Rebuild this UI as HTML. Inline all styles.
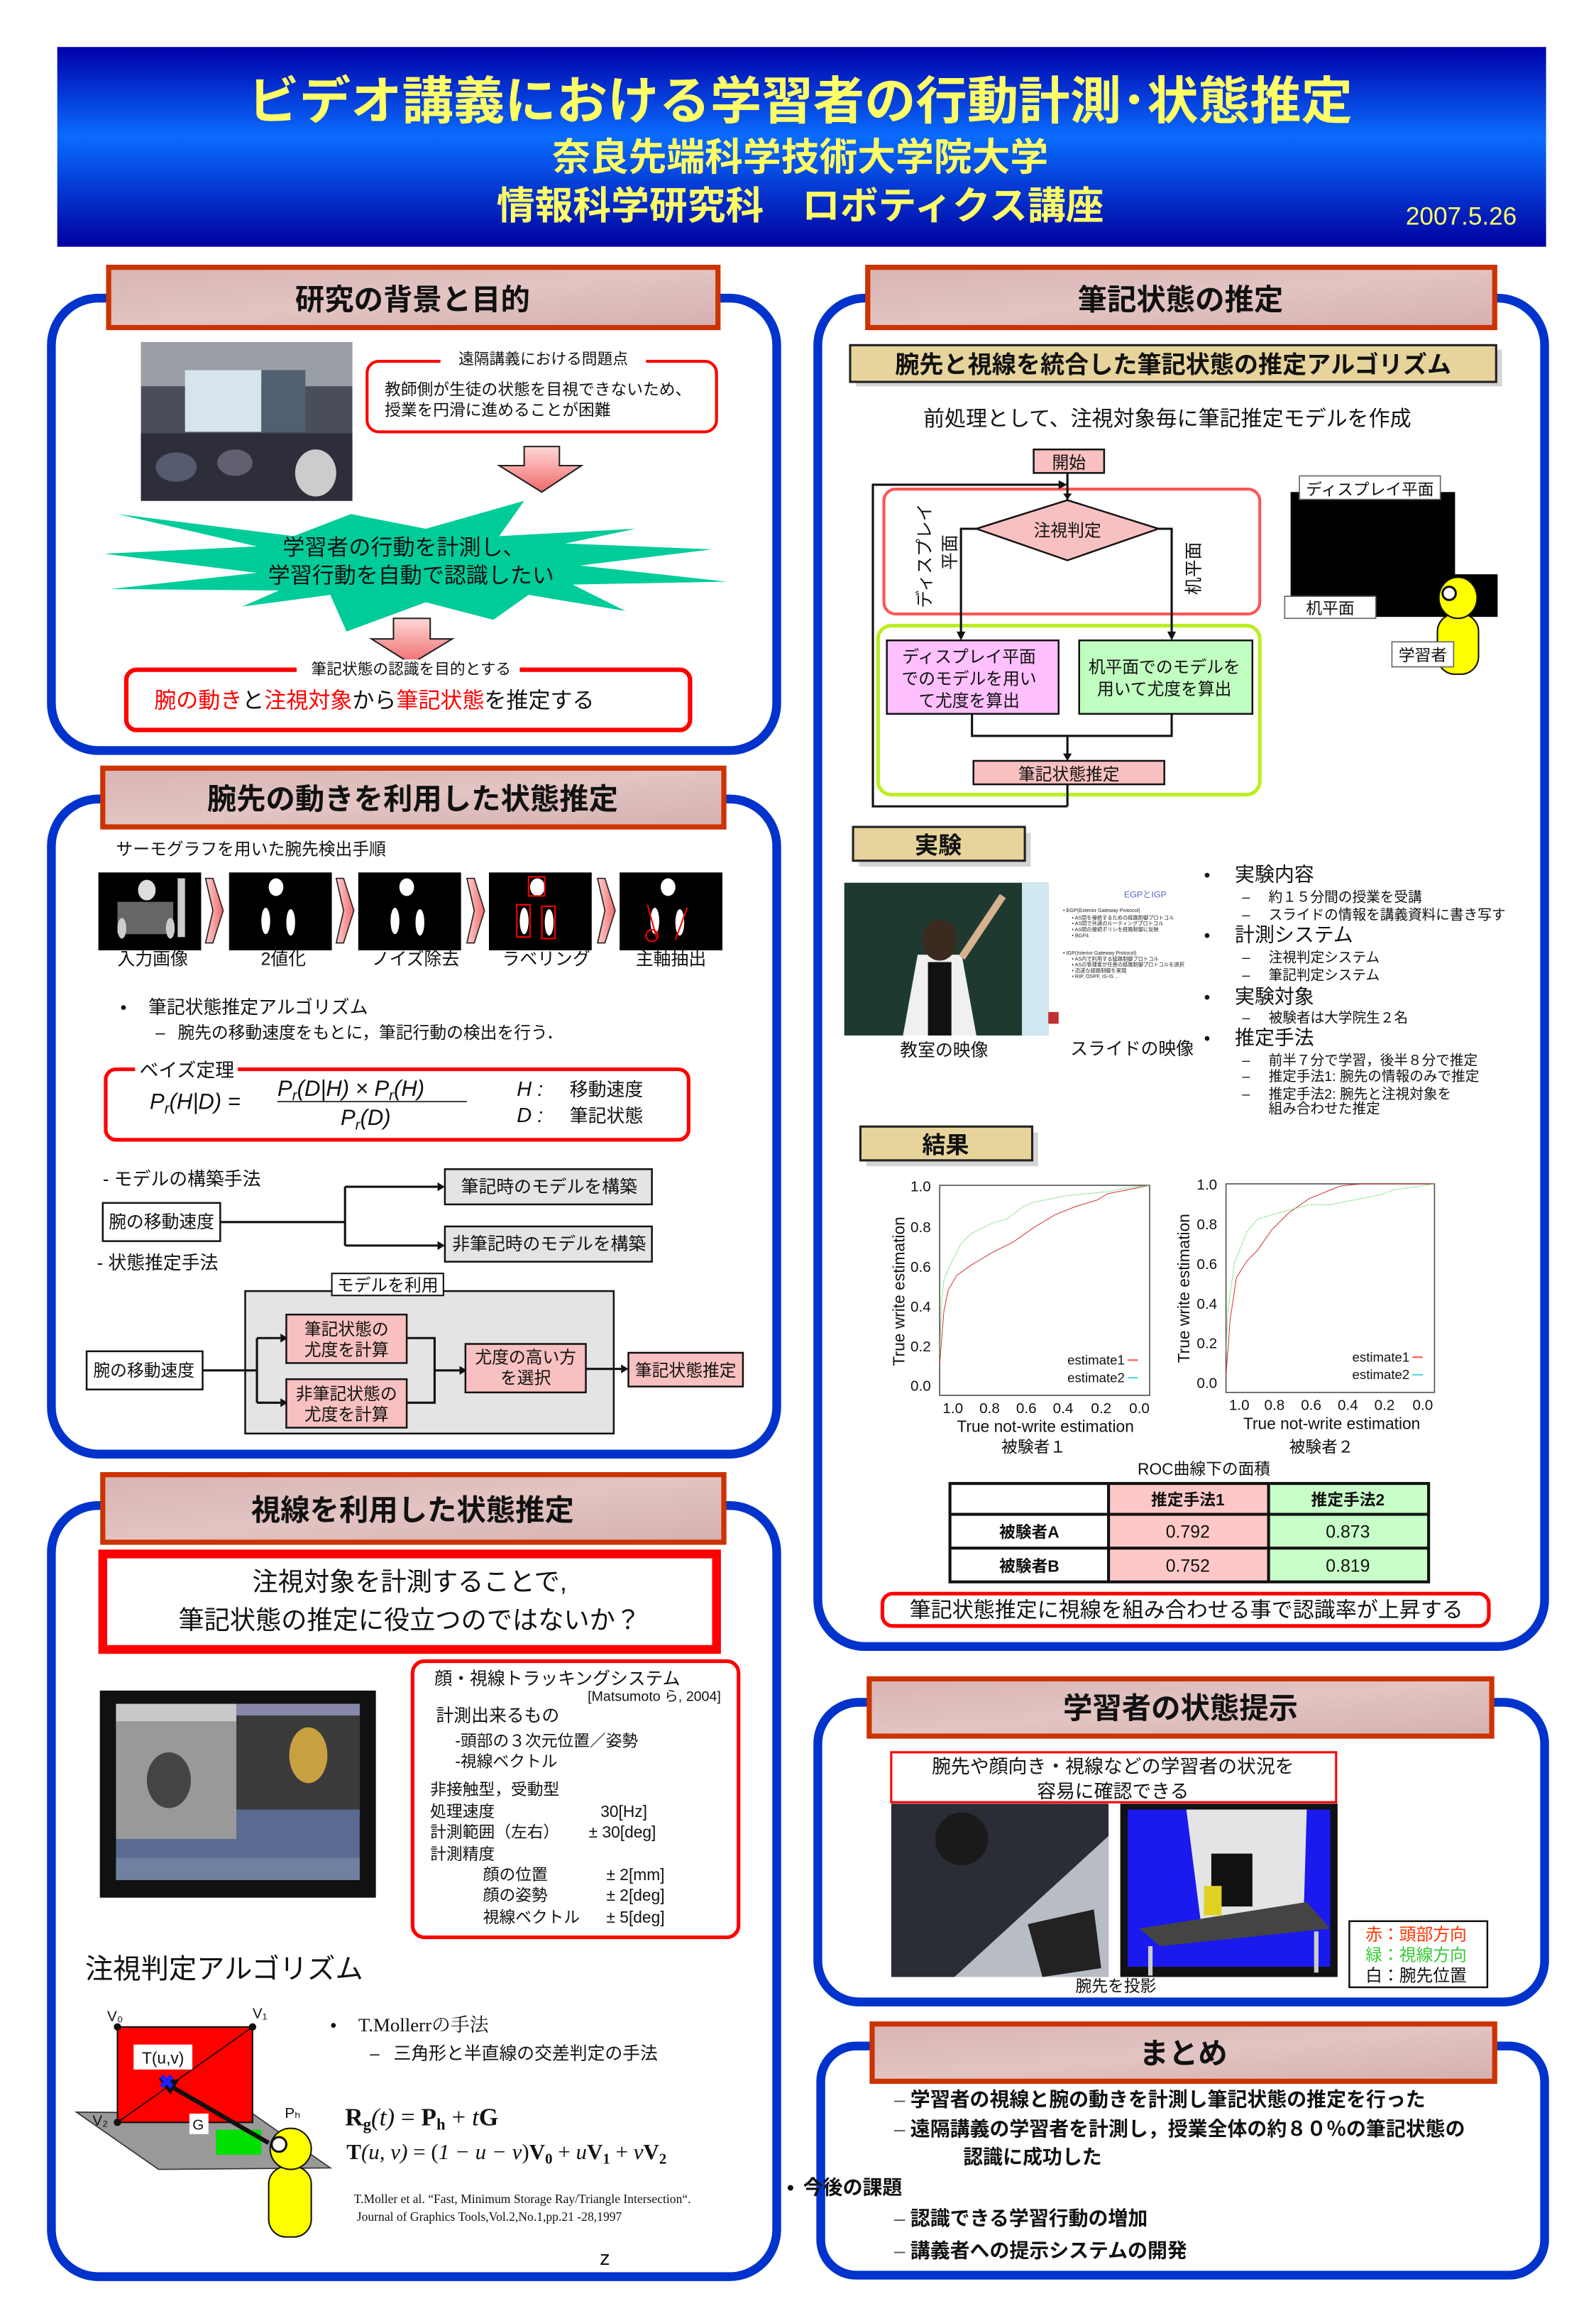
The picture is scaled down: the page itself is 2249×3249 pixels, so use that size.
<!DOCTYPE html>
<html><head><meta charset="utf-8"><style>
html,body{margin:0;padding:0;background:#fff;}
svg{display:block;}
text{font-family:"Liberation Sans","Noto Sans CJK JP",sans-serif;}
.serif{font-family:"Liberation Serif","Noto Serif CJK SC",serif;}
</style></head><body>
<svg width="2249" height="3249" viewBox="0 0 1087 1570" preserveAspectRatio="none" xmlns="http://www.w3.org/2000/svg">
<defs>
<linearGradient id="hg" x1="0" y1="0" x2="0" y2="1">
<stop offset="0" stop-color="#0000a8"/><stop offset="0.45" stop-color="#0a6cff"/><stop offset="1" stop-color="#0000a0"/>
</linearGradient>
<linearGradient id="pk" x1="0" y1="0" x2="1" y2="1">
<stop offset="0" stop-color="#d8b4b4"/><stop offset="0.5" stop-color="#e2c4c2"/><stop offset="1" stop-color="#d4b0b0"/>
</linearGradient>
<linearGradient id="ar" x1="0" y1="0" x2="1" y2="0">
<stop offset="0" stop-color="#ffd0d0"/><stop offset="1" stop-color="#f06a6a"/>
</linearGradient>
<linearGradient id="ard" x1="0" y1="0" x2="0" y2="1">
<stop offset="0" stop-color="#ffd8d8"/><stop offset="1" stop-color="#f06a6a"/>
</linearGradient>
</defs>
<rect width="1087" height="1570" fill="#fff"/>
<!-- HEADER -->
<rect x="39" y="32" width="1014" height="136" fill="url(#hg)"/>
<text x="545" y="81" text-anchor="middle" font-size="35" font-weight="bold" fill="#ffff66">ビデオ講義における学習者の行動計測･状態推定</text>
<text x="545" y="116" text-anchor="middle" font-size="26" font-weight="bold" fill="#ffff66">奈良先端科学技術大学院大学</text>
<text x="545" y="149" text-anchor="middle" font-size="26" font-weight="bold" fill="#ffff66">情報科学研究科　ロボティクス講座</text>
<text x="1033" y="153" text-anchor="end" font-size="17" fill="#ffff66">2007.5.26</text>

<!-- PANEL BORDERS -->
<g fill="none" stroke="#0033cc" stroke-width="6">
<rect x="35" y="203" width="494" height="308" rx="32"/>
<rect x="35" y="544" width="494" height="446" rx="32"/>
<rect x="35" y="1025" width="494" height="525" rx="32"/>
<rect x="557" y="203" width="495" height="918" rx="32"/>
<rect x="557" y="1159" width="495" height="204" rx="28"/>
<rect x="559" y="1393" width="493" height="156" rx="24"/>
</g>
<!-- SECTION HEADERS -->
<g fill="url(#pk)" stroke="#cc3300" stroke-width="3.5">
<rect x="74" y="182" width="415" height="41"/>
<rect x="70" y="523" width="423" height="40"/>
<rect x="70" y="1004" width="423" height="46"/>
<rect x="591" y="182" width="427" height="41"/>
<rect x="592" y="1143" width="424" height="39"/>
<rect x="594" y="1378" width="424" height="39"/>
</g>
<g font-size="20" font-weight="bold" fill="#111" text-anchor="middle">
<text x="281" y="211">研究の背景と目的</text>
<text x="281" y="551">腕先の動きを利用した状態推定</text>
<text x="281" y="1035">視線を利用した状態推定</text>
<text x="804" y="211">筆記状態の推定</text>
<text x="804" y="1170">学習者の状態提示</text>
<text x="806" y="1405">まとめ</text>
</g>

<!-- PANEL 1 -->
<rect x="96" y="233" width="144" height="108" fill="#4a4e58"/>
<rect x="96" y="233" width="144" height="30" fill="#9a9ea6"/>
<rect x="126" y="252" width="52" height="42" fill="#d8e4ec"/>
<rect x="178" y="252" width="30" height="42" fill="#506070"/>
<rect x="96" y="295" width="144" height="46" fill="#2e2e3a"/>
<ellipse cx="120" cy="318" rx="14" ry="10" fill="#555a70"/>
<ellipse cx="160" cy="315" rx="12" ry="9" fill="#606070"/>
<ellipse cx="215" cy="322" rx="14" ry="16" fill="#cccccc"/>
<rect x="250" y="246" width="238" height="48" rx="8" fill="#fff" stroke="#f00" stroke-width="2"/>
<rect x="300" y="238" width="140" height="12" fill="#fff"/>
<text x="370" y="248" text-anchor="middle" font-size="10.5" fill="#111">遠隔講義における問題点</text>
<text x="262" y="269" font-size="11" fill="#111">教師側が生徒の状態を目視できないため、</text>
<text x="262" y="283" font-size="11" fill="#111">授業を円滑に進めることが困難</text>
<polygon points="357,304 381,304 381,317 396,317 369,335 340,317 357,317" fill="url(#ard)" stroke="#222" stroke-width="1"/>
<polygon points="80,350 175,372 71,377 175,390 75,401 190,402 165,413 225,405 236,430 290,410 336,422 360,405 426,416 390,398 495,396 395,385 485,374 385,370 433,360 340,365 357,341 290,360 239,350 200,365" fill="#00cc99"/>
<text x="275" y="378" text-anchor="middle" font-size="15" fill="#111">学習者の行動を計測し、</text>
<text x="280" y="397" text-anchor="middle" font-size="15" fill="#111">学習行動を自動で認識したい</text>
<polygon points="268,421 293,421 293,435 308,435 280,452 253,435 268,435" fill="url(#ard)" stroke="#222" stroke-width="1"/>
<rect x="86" y="456" width="384" height="41" rx="7" fill="none" stroke="#f00" stroke-width="3"/>
<rect x="202" y="449" width="152" height="12" fill="#fff"/>
<text x="280" y="459" text-anchor="middle" font-size="10.5" fill="#111">筆記状態の認識を目的とする</text>
<text x="105" y="482" font-size="15" fill="#111"><tspan fill="#f00">腕の動き</tspan>と<tspan fill="#f00">注視対象</tspan>から<tspan fill="#f00">筆記状態</tspan>を推定する</text>

<!-- PANEL 2 -->
<text x="79" y="582" font-size="11.5" fill="#111">サーモグラフを用いた腕先検出手順</text>
<g fill="#000">
<rect x="67" y="594" width="70" height="53"/><rect x="156" y="594" width="70" height="53"/>
<rect x="244" y="594" width="70" height="53"/><rect x="333" y="594" width="70" height="53"/>
<rect x="422" y="594" width="70" height="53"/>
</g>
<g fill="#fff">
<ellipse cx="100" cy="606" rx="6" ry="7" fill="#ddd"/><rect x="80" y="614" width="38" height="22" fill="#666"/>
<ellipse cx="83" cy="632" rx="3" ry="7" fill="#ccc"/><ellipse cx="116" cy="632" rx="3" ry="7" fill="#ccc"/>
<rect x="121" y="598" width="5" height="40" fill="#ccc"/>
<ellipse cx="188" cy="604" rx="5" ry="6"/><ellipse cx="181" cy="627" rx="3" ry="9"/><ellipse cx="198" cy="628" rx="3" ry="9"/>
<ellipse cx="277" cy="604" rx="5" ry="6"/><ellipse cx="269" cy="627" rx="3" ry="9"/><ellipse cx="286" cy="628" rx="3" ry="9"/>
<ellipse cx="366" cy="604" rx="5" ry="6"/><ellipse cx="357" cy="627" rx="3" ry="9"/><ellipse cx="374" cy="628" rx="3" ry="9"/>
<ellipse cx="455" cy="604" rx="5" ry="6"/><ellipse cx="446" cy="627" rx="3" ry="9"/><ellipse cx="463" cy="628" rx="3" ry="9"/>
</g>
<g fill="none" stroke="#f00" stroke-width="1">
<rect x="360" y="597" width="11" height="13"/><rect x="352" y="616" width="9" height="22"/><rect x="369" y="617" width="9" height="22"/>
<circle cx="444" cy="637" r="4"/><line x1="441" y1="616" x2="447" y2="638"/><line x1="468" y1="618" x2="460" y2="640"/>
</g>
<g fill="url(#ar)" stroke="#222" stroke-width="0.8">
<polygon points="140,598 145,598 152,620 145,642 140,642 145,620"/>
<polygon points="229,598 234,598 241,620 234,642 229,642 234,620"/>
<polygon points="318,598 323,598 330,620 323,642 318,642 323,620"/>
<polygon points="407,598 412,598 419,620 412,642 407,642 412,620"/>
</g>
<g font-size="12" fill="#111" text-anchor="middle">
<text x="104" y="657">入力画像</text><text x="193" y="657">2値化</text><text x="283" y="657">ノイズ除去</text><text x="372" y="657">ラベリング</text><text x="457" y="657">主軸抽出</text>
</g>
<text x="82" y="690" font-size="12" fill="#111">•</text>
<text x="101" y="690" font-size="12.5" fill="#111">筆記状態推定アルゴリズム</text>
<text x="106" y="707" font-size="11.5" fill="#111">–</text>
<text x="121" y="707" font-size="11.5" fill="#111">腕先の移動速度をもとに，筆記行動の検出を行う．</text>
<rect x="72" y="728" width="397" height="48" rx="7" fill="none" stroke="#f00" stroke-width="2.5"/>
<rect x="92" y="722" width="70" height="12" fill="#fff"/>
<text x="95" y="733" font-size="13" fill="#111">ベイズ定理</text>
<g class="serif" font-style="italic" fill="#111">
<text x="102" y="755" font-size="15">P<tspan font-size="10" dy="3">r</tspan><tspan dy="-3">(H|D) =</tspan></text>
<text x="189" y="746" font-size="15">P<tspan font-size="10" dy="3">r</tspan><tspan dy="-3">(D|H) × P</tspan><tspan font-size="10" dy="3">r</tspan><tspan dy="-3">(H)</tspan></text>
<text x="232" y="766" font-size="15">P<tspan font-size="10" dy="3">r</tspan><tspan dy="-3">(D)</tspan></text>
<text x="352" y="746" font-size="14">H :</text><text x="352" y="764" font-size="14">D :</text>
</g>
<line x1="189" y1="750" x2="318" y2="750" stroke="#111" stroke-width="0.8"/>
<text x="388" y="746" font-size="12.5" fill="#111">移動速度</text>
<text x="388" y="764" font-size="12.5" fill="#111">筆記状態</text>
<text x="70" y="807" font-size="12.5" fill="#111">- モデルの構築手法</text>
<text x="66" y="864" font-size="12.5" fill="#111">- 状態推定手法</text>
<rect x="70" y="819" width="80" height="26" fill="#fff" stroke="#111" stroke-width="1.2"/>
<text x="110" y="836" text-anchor="middle" font-size="12" fill="#111">腕の移動速度</text>
<g stroke="#111" stroke-width="1.5" fill="none">
<polyline points="150,832 235,832"/><polyline points="235,808 235,848"/>
<polyline points="235,808 298,808"/><polyline points="235,848 298,848"/>
</g>
<polygon points="298,805 303,808 298,811" fill="#111"/><polygon points="298,845 303,848 298,851" fill="#111"/>
<rect x="303" y="796" width="141" height="24" fill="#e4e4e4" stroke="#111" stroke-width="1.2"/>
<rect x="303" y="835" width="141" height="24" fill="#e4e4e4" stroke="#111" stroke-width="1.2"/>
<text x="374" y="812" text-anchor="middle" font-size="12" fill="#111">筆記時のモデルを構築</text>
<text x="374" y="851" text-anchor="middle" font-size="12" fill="#111">非筆記時のモデルを構築</text>
<rect x="167" y="879" width="251" height="97" fill="#e4e4e4" stroke="#111" stroke-width="1.2"/>
<rect x="226" y="867" width="76" height="15" fill="#fff" stroke="#111" stroke-width="1"/>
<text x="264" y="879" text-anchor="middle" font-size="11.5" fill="#111">モデルを利用</text>
<rect x="59" y="920" width="79" height="26" fill="#fff" stroke="#111" stroke-width="1.2"/>
<text x="98" y="937" text-anchor="middle" font-size="11.5" fill="#111">腕の移動速度</text>
<g stroke="#111" stroke-width="1.5" fill="none">
<polyline points="138,933 175,933"/><polyline points="175,911 175,955"/>
<polyline points="175,911 191,911"/><polyline points="175,955 191,955"/>
<polyline points="277,911 296,911 296,955 277,955"/><polyline points="296,933 313,933"/>
<polyline points="399,932 423,932"/>
</g>
<g fill="#111"><polygon points="191,908 196,911 191,914"/><polygon points="191,952 196,955 191,958"/><polygon points="313,930 318,933 313,936"/><polygon points="423,929 428,932 423,935"/></g>
<g fill="#f8c0c0" stroke="#111" stroke-width="1.2">
<rect x="195" y="895" width="82" height="33"/><rect x="195" y="939" width="82" height="33"/>
<rect x="317" y="915" width="82" height="33"/><rect x="428" y="921" width="78" height="23"/>
</g>
<g font-size="11.5" fill="#111" text-anchor="middle">
<text x="236" y="909">筆記状態の</text><text x="236" y="923">尤度を計算</text>
<text x="236" y="953">非筆記状態の</text><text x="236" y="967">尤度を計算</text>
<text x="358" y="928">尤度の高い方</text><text x="358" y="942">を選択</text>
<text x="467" y="937">筆記状態推定</text>
</g>

<!-- PANEL 3 LEFT -->
<rect x="70" y="1058" width="418" height="65" fill="#fff" stroke="#f00" stroke-width="6"/>
<text x="279" y="1083" text-anchor="middle" font-size="17.5" fill="#111">注視対象を計測することで,</text>
<text x="279" y="1109" text-anchor="middle" font-size="17.5" fill="#111">筆記状態の推定に役立つのではないか？</text>
<rect x="68" y="1151" width="188" height="141" fill="#111"/>
<rect x="79" y="1160" width="166" height="120" fill="#5a6a90"/>
<rect x="79" y="1160" width="82" height="12" fill="#c8c8c8"/>
<rect x="161" y="1160" width="84" height="8" fill="#8888aa"/>
<rect x="79" y="1172" width="82" height="80" fill="#999"/>
<rect x="161" y="1168" width="84" height="64" fill="#3a3a3a"/>
<ellipse cx="115" cy="1212" rx="15" ry="19" fill="#444"/>
<ellipse cx="210" cy="1195" rx="13" ry="19" fill="#c8a040"/>
<rect x="79" y="1265" width="166" height="15" fill="#7080a0"/>
<rect x="281" y="1131" width="222" height="188" rx="8" fill="none" stroke="#f00" stroke-width="2.5"/>
<g font-size="12" fill="#111">
<text x="296" y="1147">顔・視線トラッキングシステム</text>
<text x="491" y="1158" text-anchor="end" font-size="9.5">[Matsumoto ら, 2004]</text>
<text x="297" y="1172">計測出来るもの</text>
<text x="310" y="1189" font-size="11">-頭部の３次元位置／姿勢</text>
<text x="310" y="1203" font-size="11">-視線ベクトル</text>
<text x="293" y="1222" font-size="11">非接触型，受動型</text>
<text x="293" y="1237" font-size="11">処理速度</text><text x="409" y="1237" font-size="11">30[Hz]</text>
<text x="293" y="1251" font-size="11">計測範囲（左右）</text><text x="401" y="1251" font-size="11">± 30[deg]</text>
<text x="293" y="1266" font-size="11">計測精度</text>
<text x="329" y="1280" font-size="11">顔の位置</text><text x="413" y="1280" font-size="11">± 2[mm]</text>
<text x="329" y="1294" font-size="11">顔の姿勢</text><text x="413" y="1294" font-size="11">± 2[deg]</text>
<text x="329" y="1309" font-size="11">視線ベクトル</text><text x="413" y="1309" font-size="11">± 5[deg]</text>
</g>
<text x="58" y="1347" font-size="19" fill="#111">注視判定アルゴリズム</text>
<polygon points="52,1438 108,1477 225,1476 172,1439" fill="#999" stroke="#333" stroke-width="0.8"/>
<rect x="80" y="1380" width="92" height="65" fill="#f00" stroke="#111" stroke-width="1"/>
<line x1="80" y1="1445" x2="172" y2="1380" stroke="#111" stroke-width="0.8"/>
<circle cx="80" cy="1380" r="2.5" fill="#111"/><circle cx="172" cy="1380" r="2.5" fill="#111"/><circle cx="80" cy="1445" r="2.5" fill="#111"/>
<rect x="91" y="1392" width="40" height="17" fill="#fff"/>
<text x="111" y="1405" text-anchor="middle" font-size="11" fill="#111">T(u,v)</text>
<text x="73" y="1376" font-size="10" fill="#111">V₀</text><text x="172" y="1374" font-size="10" fill="#111">V₁</text>
<text x="63" y="1447" font-size="10" fill="#111">V₂</text>
<rect x="129" y="1439" width="13" height="14" fill="#fff"/><text x="135" y="1450" text-anchor="middle" font-size="10" fill="#111">G</text>
<rect x="147" y="1450" width="31" height="17" fill="#00e000"/>
<text x="194" y="1442" font-size="10" fill="#111">Pₕ</text>
<line x1="183" y1="1459" x2="114" y2="1419" stroke="#111" stroke-width="3"/>
<polygon points="108,1415 122,1416 116,1426" fill="#111"/>
<text x="108" y="1422" font-size="13" fill="#2020ff" font-weight="bold">✖</text>
<rect x="183" y="1475" width="29" height="48" rx="12" fill="#ffff00" stroke="#111" stroke-width="1"/>
<circle cx="198" cy="1463" r="14" fill="#ffff00" stroke="#111" stroke-width="1"/>
<circle cx="190" cy="1460" r="5" fill="#fff" stroke="#111" stroke-width="1.5"/>
<text x="225" y="1383" font-size="12" fill="#111">•</text>
<text x="244" y="1383" class="serif" font-size="13" fill="#111">T.Mollerrの手法</text>
<text x="252" y="1402" font-size="11.5" fill="#111">–</text>
<text x="268" y="1402" font-size="12" fill="#111">三角形と半直線の交差判定の手法</text>
<text x="235" y="1447" class="serif" font-size="17" fill="#111"><tspan font-weight="bold">R</tspan><tspan font-weight="bold" font-size="11" dy="3">g</tspan><tspan dy="-3" font-style="italic">(t)</tspan> = <tspan font-weight="bold">P</tspan><tspan font-weight="bold" font-size="11" dy="3">h</tspan><tspan dy="-3"> + </tspan><tspan font-style="italic">t</tspan><tspan font-weight="bold">G</tspan></text>
<text x="236" y="1470" class="serif" font-size="15" fill="#111"><tspan font-weight="bold">T</tspan><tspan font-style="italic">(u, v)</tspan> = (<tspan font-style="italic">1 − u − v</tspan>)<tspan font-weight="bold">V</tspan><tspan font-size="10" font-weight="bold" dy="3">0</tspan><tspan dy="-3"> + </tspan><tspan font-style="italic">u</tspan><tspan font-weight="bold">V</tspan><tspan font-size="10" font-weight="bold" dy="3">1</tspan><tspan dy="-3"> + </tspan><tspan font-style="italic">v</tspan><tspan font-weight="bold">V</tspan><tspan font-size="10" font-weight="bold" dy="3">2</tspan></text>
<text x="241" y="1500" class="serif" font-size="8.5" fill="#111">T.Moller et al.  “Fast, Minimum Storage Ray/Triangle Intersection“.</text>
<text x="243" y="1512" class="serif" font-size="8.5" fill="#111">Journal of Graphics Tools,Vol.2,No.1,pp.21 -28,1997</text>
<text x="412" y="1542" text-anchor="middle" font-size="14" fill="#111">z</text>

<!-- RIGHT PANEL 1 -->
<rect x="583" y="238" width="440" height="25" fill="#aaa" opacity="0.5"/>
<rect x="579" y="235" width="440" height="25" fill="#e6d49c" stroke="#222" stroke-width="1.5"/>
<text x="799" y="254" text-anchor="middle" font-size="16.5" font-weight="bold" fill="#111">腕先と視線を統合した筆記状態の推定アルゴリズム</text>
<text x="795" y="290" text-anchor="middle" font-size="14.5" fill="#111">前処理として、注視対象毎に筆記推定モデルを作成</text>
<!-- flowchart -->
<rect x="602" y="333" width="256" height="85" rx="8" fill="none" stroke="#ff5555" stroke-width="2"/>
<rect x="598" y="426" width="260" height="115" rx="9" fill="none" stroke="#bbee22" stroke-width="2.5"/>
<g stroke="#111" stroke-width="1.5" fill="none">
<polyline points="727,322 727,340"/>
<polyline points="727,549 594.5,549 594.5,330 722,330"/>
<polyline points="665,360 654.5,360 654.5,432"/>
<polyline points="789,360 798,360 798,432"/>
<polyline points="662,486 662,501 798,501 798,486"/>
<polyline points="727,501 727,514"/>
<polyline points="727,534 727,549"/>
</g>
<g fill="#111"><polygon points="721,327 727,330 721,333"/><polygon points="724,336 727,340 730,336"/><polygon points="651.5,430 654.5,436 657.5,430"/><polygon points="795,430 798,436 801,430"/><polygon points="724,513 727,518 730,513"/></g>
<rect x="704" y="306" width="48" height="16" fill="#f8c0c0" stroke="#111" stroke-width="1.2"/>
<text x="728" y="319" text-anchor="middle" font-size="11.5" fill="#111">開始</text>
<polygon points="727,340.5 789,360 727,381.5 665,360" fill="#f8c0c0" stroke="#111" stroke-width="1.2"/>
<text x="727" y="365" text-anchor="middle" font-size="11.5" fill="#111">注視判定</text>
<text transform="translate(634,414) rotate(-90)" font-size="12" fill="#111">ディスプレイ</text>
<text transform="translate(651,388) rotate(-90)" font-size="12" fill="#111">平面</text>
<text transform="translate(817,405) rotate(-90)" font-size="12" fill="#111">机平面</text>
<rect x="604" y="436" width="117" height="50" fill="#ffc0ff" stroke="#111" stroke-width="1.2"/>
<rect x="735" y="436" width="118" height="50" fill="#c0ffc0" stroke="#111" stroke-width="1.2"/>
<g font-size="11.5" fill="#111" text-anchor="middle">
<text x="660" y="451">ディスプレイ平面</text><text x="660" y="466">でのモデルを用い</text><text x="660" y="481">て尤度を算出</text>
<text x="793" y="458">机平面でのモデルを</text><text x="793" y="473">用いて尤度を算出</text>
</g>
<rect x="663" y="518" width="130" height="16" fill="#f8c0c0" stroke="#111" stroke-width="1.2"/>
<text x="728" y="531" text-anchor="middle" font-size="11.5" fill="#111">筆記状態推定</text>
<rect x="879" y="335" width="112" height="85" fill="#000"/>
<rect x="991" y="391" width="29" height="29" fill="#000"/>
<rect x="885" y="324" width="96" height="16" fill="#fff" stroke="#666" stroke-width="0.8"/>
<text x="933" y="337" text-anchor="middle" font-size="11" fill="#111">ディスプレイ平面</text>
<rect x="875" y="406" width="62" height="15" fill="#fff" stroke="#666" stroke-width="0.8"/>
<text x="906" y="418" text-anchor="middle" font-size="11" fill="#111">机平面</text>
<rect x="979" y="418" width="28" height="41" rx="12" fill="#ffff00" stroke="#111" stroke-width="1"/>
<ellipse cx="993" cy="407" rx="13" ry="14" fill="#ffff00" stroke="#111" stroke-width="1"/>
<circle cx="987" cy="404" r="4.5" fill="#fff" stroke="#111" stroke-width="1.5"/>
<rect x="948" y="437" width="42" height="17" fill="#fff" stroke="#666" stroke-width="0.8"/>
<text x="969" y="450" text-anchor="middle" font-size="11" fill="#111">学習者</text>
<!-- experiment -->
<rect x="585" y="567" width="117" height="23" fill="#aaa" opacity="0.5"/>
<rect x="581" y="563" width="117" height="23" fill="#e6d49c" stroke="#222" stroke-width="1.5"/>
<text x="639" y="581" text-anchor="middle" font-size="16" font-weight="bold" fill="#111">実験</text>
<rect x="575" y="601" width="139" height="104" fill="#1e3a30"/>
<rect x="696" y="601" width="18" height="104" fill="#d0e8f0"/>
<polygon points="615,705 625,650 655,650 665,705" fill="#f0f0f0"/>
<rect x="632" y="655" width="16" height="50" fill="#111"/>
<line x1="655" y1="652" x2="683" y2="610" stroke="#d8b090" stroke-width="5"/>
<ellipse cx="640" cy="640" rx="12" ry="14" fill="#3a2a20"/>
<text x="780" y="611" text-anchor="middle" font-size="6" fill="#5566cc">EGPとIGP</text>
<g font-size="3.5" fill="#222">
<text x="724" y="621">• EGP(Exterior Gateway Protocol)</text><text x="730" y="626">• AS間を接続するための経路制御プロトコル</text>
<text x="730" y="630">• AS間で共通のルーティングプロトコル</text><text x="730" y="634">• AS間の接続ポリシを経路制御に反映</text>
<text x="730" y="638">• BGP4</text>
<text x="724" y="650">• IGP(Interior Gateway Protocol)</text><text x="730" y="654">• AS内で利用する経路制御プロトコル</text>
<text x="730" y="658">• ASの管理者が任意の経路制御プロトコルを選択</text><text x="730" y="662">• 迅速な経路制御を実現</text>
<text x="730" y="666">• RIP, OSPF, IS-IS ...</text>
</g>
<rect x="714" y="689" width="7" height="8" fill="#c03030"/>
<text x="643" y="719" text-anchor="middle" font-size="12" fill="#111">教室の映像</text>
<text x="771" y="718" text-anchor="middle" font-size="12" fill="#111">スライドの映像</text>
<g fill="#111">
<text x="820" y="600" font-size="12">•</text><text x="841" y="600" font-size="13.5">実験内容</text>
<text x="846" y="614" font-size="9.5">–</text><text x="864" y="614" font-size="9.5">約１５分間の授業を受講</text>
<text x="846" y="626" font-size="9.5">–</text><text x="864" y="626" font-size="9.5">スライドの情報を講義資料に書き写す</text>
<text x="820" y="641" font-size="12">•</text><text x="841" y="641" font-size="13.5">計測システム</text>
<text x="846" y="655" font-size="9.5">–</text><text x="864" y="655" font-size="9.5">注視判定システム</text>
<text x="846" y="667" font-size="9.5">–</text><text x="864" y="667" font-size="9.5">筆記判定システム</text>
<text x="820" y="683" font-size="12">•</text><text x="841" y="683" font-size="13.5">実験対象</text>
<text x="846" y="696" font-size="9.5">–</text><text x="864" y="696" font-size="9.5">被験者は大学院生２名</text>
<text x="820" y="711" font-size="12">•</text><text x="841" y="711" font-size="13.5">推定手法</text>
<text x="846" y="725" font-size="9.5">–</text><text x="864" y="725" font-size="9.5">前半７分で学習，後半８分で推定</text>
<text x="846" y="736" font-size="9.5">–</text><text x="864" y="736" font-size="9.5">推定手法1: 腕先の情報のみで推定</text>
<text x="846" y="748" font-size="9.5">–</text><text x="864" y="748" font-size="9.5">推定手法2: 腕先と注視対象を</text>
<text x="864" y="758" font-size="9.5">組み合わせた推定</text>
</g>
<!-- results -->
<rect x="590" y="771" width="117" height="23" fill="#aaa" opacity="0.5"/>
<rect x="586" y="767" width="117" height="23" fill="#e6d49c" stroke="#222" stroke-width="1.5"/>
<text x="644" y="785" text-anchor="middle" font-size="16" font-weight="bold" fill="#111">結果</text>
<g class="serif" fill="#111" font-size="10">
<rect x="640" y="807" width="143" height="143" fill="none" stroke="#555" stroke-width="0.8"/>
<text x="634" y="811" text-anchor="end">1.0</text><text x="634" y="839" text-anchor="end">0.8</text><text x="634" y="866" text-anchor="end">0.6</text>
<text x="634" y="893" text-anchor="end">0.4</text><text x="634" y="920" text-anchor="end">0.2</text><text x="634" y="947" text-anchor="end">0.0</text>
<text x="649" y="962" text-anchor="middle">1.0</text><text x="674" y="962" text-anchor="middle">0.8</text><text x="699" y="962" text-anchor="middle">0.6</text>
<text x="724" y="962" text-anchor="middle">0.4</text><text x="750" y="962" text-anchor="middle">0.2</text><text x="776" y="962" text-anchor="middle">0.0</text>
<text x="712" y="975" text-anchor="middle" font-size="11">True not-write estimation</text>
<text transform="translate(616,930) rotate(-90)" font-size="11">True write estimation</text>
<text x="727" y="929" font-size="9">estimate1</text><text x="727" y="941" font-size="9">estimate2</text>
<line x1="768" y1="926" x2="775" y2="926" stroke="#f55" stroke-width="1"/><line x1="768" y1="938" x2="775" y2="938" stroke="#4dd" stroke-width="1"/>
<rect x="835" y="806" width="142" height="142" fill="none" stroke="#555" stroke-width="0.8"/>
<text x="829" y="810" text-anchor="end">1.0</text><text x="829" y="837" text-anchor="end">0.8</text><text x="829" y="864" text-anchor="end">0.6</text>
<text x="829" y="891" text-anchor="end">0.4</text><text x="829" y="918" text-anchor="end">0.2</text><text x="829" y="945" text-anchor="end">0.0</text>
<text x="844" y="960" text-anchor="middle">1.0</text><text x="868" y="960" text-anchor="middle">0.8</text><text x="893" y="960" text-anchor="middle">0.6</text>
<text x="918" y="960" text-anchor="middle">0.4</text><text x="943" y="960" text-anchor="middle">0.2</text><text x="969" y="960" text-anchor="middle">0.0</text>
<text x="907" y="973" text-anchor="middle" font-size="11">True not-write estimation</text>
<text transform="translate(810,928) rotate(-90)" font-size="11">True write estimation</text>
<text x="921" y="927" font-size="9">estimate1</text><text x="921" y="939" font-size="9">estimate2</text>
<line x1="962" y1="924" x2="969" y2="924" stroke="#f55" stroke-width="1"/><line x1="962" y1="936" x2="969" y2="936" stroke="#4dd" stroke-width="1"/>
</g>
<g transform="translate(640,950) scale(143,-143)" fill="none">
<polyline vector-effect="non-scaling-stroke" stroke="#cc3333" stroke-width="1" points="0,0.15 0.02,0.4 0.04,0.5 0.08,0.57 0.15,0.62 0.25,0.68 0.35,0.73 0.45,0.8 0.55,0.86 0.65,0.9 0.75,0.93 0.8,0.96 1,1"/>
<polyline vector-effect="non-scaling-stroke" stroke="#66dd66" stroke-width="1" stroke-dasharray="2,1" points="0,0.2 0.01,0.45 0.02,0.55 0.05,0.62 0.1,0.72 0.15,0.77 0.25,0.82 0.32,0.84 0.4,0.9 0.45,0.92 0.6,0.95 0.8,0.97 0.9,0.99 1,1"/>
</g>
<g transform="translate(835,948) scale(142,-142)" fill="none">
<polyline vector-effect="non-scaling-stroke" stroke="#cc3333" stroke-width="1" points="0,0.08 0.02,0.35 0.05,0.55 0.1,0.63 0.15,0.68 0.22,0.78 0.3,0.86 0.4,0.93 0.5,0.97 0.55,0.99 0.65,1 1,1"/>
<polyline vector-effect="non-scaling-stroke" stroke="#66dd66" stroke-width="1" stroke-dasharray="2,1" points="0,0.2 0.01,0.4 0.04,0.62 0.1,0.77 0.15,0.83 0.25,0.86 0.4,0.9 0.5,0.9 0.6,0.92 0.75,0.95 0.8,0.97 1,1"/>
</g>
<text x="704" y="989" text-anchor="middle" font-size="11" fill="#111">被験者１</text>
<text x="900" y="989" text-anchor="middle" font-size="11" fill="#111">被験者２</text>
<text x="820" y="1004" text-anchor="middle" font-size="11" fill="#111">ROC曲線下の面積</text>
<rect x="647" y="1010" width="108" height="21" fill="#fff"/>
<rect x="755" y="1010" width="109" height="67" fill="#ffc8c8"/>
<rect x="864" y="1010" width="109" height="67" fill="#c8ffc8"/>
<g stroke="#111" stroke-width="2" fill="none">
<rect x="647" y="1010" width="326" height="67"/>
<line x1="755" y1="1010" x2="755" y2="1077"/><line x1="864" y1="1010" x2="864" y2="1077"/>
<line x1="647" y1="1031" x2="973" y2="1031"/><line x1="647" y1="1054" x2="973" y2="1054"/>
</g>
<g font-size="11" fill="#111" text-anchor="middle">
<text x="809" y="1025" font-weight="bold">推定手法1</text><text x="918" y="1025" font-weight="bold">推定手法2</text>
<text x="701" y="1047" font-weight="bold">被験者A</text><text x="809" y="1047" font-size="12">0.792</text><text x="918" y="1047" font-size="12">0.873</text>
<text x="701" y="1070" font-weight="bold">被験者B</text><text x="809" y="1070" font-size="12">0.752</text><text x="918" y="1070" font-size="12">0.819</text>
</g>
<rect x="601" y="1085" width="413" height="22" rx="7" fill="none" stroke="#f00" stroke-width="2.5"/>
<text x="808" y="1101" text-anchor="middle" font-size="14.5" fill="#111">筆記状態推定に視線を組み合わせる事で認識率が上昇する</text>

<!-- RIGHT PANEL 2 -->
<rect x="607" y="1193" width="303" height="34" fill="#fff" stroke="#f00" stroke-width="1.5"/>
<text x="758" y="1207" text-anchor="middle" font-size="13" fill="#111">腕先や顔向き・視線などの学習者の状況を</text>
<text x="758" y="1224" text-anchor="middle" font-size="13" fill="#111">容易に確認できる</text>
<rect x="607" y="1228" width="148" height="118" fill="#2a2c36"/>
<polygon points="650,1346 755,1250 755,1346" fill="#b8bcc4"/>
<polygon points="700,1310 745,1300 750,1340 710,1346" fill="#222"/>
<ellipse cx="655" cy="1252" rx="18" ry="18" fill="#1a1a1a"/>
<rect x="763" y="1228" width="148" height="118" fill="#111"/>
<rect x="768" y="1232" width="138" height="107" fill="#1a1aee"/>
<polygon points="808,1232 890,1232 888,1300 818,1310" fill="#e4e4e4"/>
<rect x="825" y="1262" width="28" height="36" fill="#111"/>
<rect x="820" y="1284" width="12" height="20" fill="#e0d020"/>
<polygon points="776,1313 890,1295 906,1313 790,1325" fill="#444"/>
<rect x="782" y="1325" width="3" height="20" fill="#ccc"/><rect x="895" y="1315" width="3" height="28" fill="#ccc"/>
<text x="760" y="1356" text-anchor="middle" font-size="11" fill="#111">腕先を投影</text>
<rect x="919" y="1308" width="94" height="45" fill="#fff" stroke="#111" stroke-width="1.2"/>
<g font-size="11.5">
<text x="930" y="1321" fill="#ff3300">赤：頭部方向</text>
<text x="930" y="1335" fill="#33cc33">緑：視線方向</text>
<text x="930" y="1349" fill="#111">白：腕先位置</text>
</g>

<!-- RIGHT PANEL 3 -->
<g font-size="13.5" font-weight="bold" fill="#111">
<text x="609" y="1434" font-weight="normal" fill="#555">–</text><text x="620" y="1434">学習者の視線と腕の動きを計測し筆記状態の推定を行った</text>
<text x="609" y="1454" font-weight="normal" fill="#555">–</text><text x="620" y="1454">遠隔講義の学習者を計測し，授業全体の約８０％の筆記状態の</text>
<text x="656" y="1473">認識に成功した</text>
<text x="536" y="1494">•</text><text x="547" y="1494">今後の課題</text>
<text x="609" y="1515" font-weight="normal" fill="#555">–</text><text x="620" y="1515">認識できる学習行動の増加</text>
<text x="609" y="1537" font-weight="normal" fill="#555">–</text><text x="620" y="1537">講義者への提示システムの開発</text>
</g>
</svg>
</body></html>
